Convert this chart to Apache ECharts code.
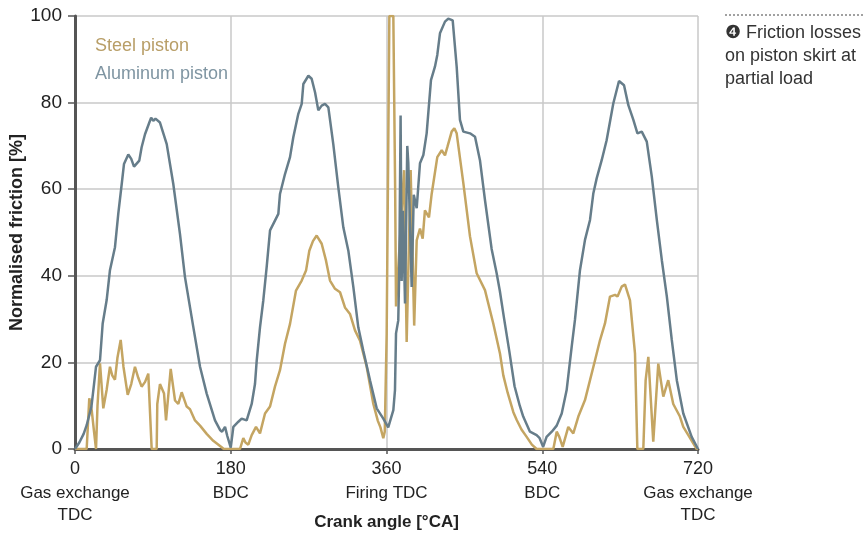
<!DOCTYPE html>
<html>
<head>
<meta charset="utf-8">
<script src="https://cdn.jsdelivr.net/npm/echarts@6/dist/echarts.min.js"></script>
<style>
html,body{margin:0;padding:0;background:#fff;}
#chart{width:863px;height:533px;}
</style>
</head>
<body>
<div id="chart"></div>
<script>
// ---- data ----
var seriesNames = ['Steel piston', 'Aluminum piston'];
var xTickValues = [0, 180, 360, 540, 720];
var xTickNumbers = ['0', '180', '360', '540', '720'];
var xTickNames = [['Gas exchange', 'TDC'], ['BDC'], ['Firing TDC'], ['BDC'], ['Gas exchange', 'TDC']];
var yTickValues = [0, 20, 40, 60, 80, 100];

var aluAngle = [0,5,10,13.5,19,22,24.3,28.9,32,36.6,40.4,46.2,50,54,56.6,61.6,65,68.2,74.3,77,80.9,85.9,88,90.5,93,98.2,106,113.6,121.3,127.1,136.7,144.5,152.2,161.8,167.6,170,173.4,176,180,183,188.8,192.6,198.4,204.2,208,210,213.8,217.6,221.5,225.4,229.2,235,236.9,242.7,248.5,252.3,258.1,262,263.9,269.7,273.5,277.4,281.2,285.1,288.9,292.8,298.5,304.3,310.1,315.9,321.7,327.4,333.2,341,348.7,356.3,362,367.9,369.8,371,373.6,374.8,376.3,377.5,379,381.4,384,385.2,389.1,391.5,394.9,398.7,402.6,406.4,411.4,416,418.7,421.8,427.6,431.4,436.5,441.1,444.9,448.8,456.5,462.3,468,473.8,481.5,487.3,491,496,502,508,514,518,525.8,533.5,537,541,545,551,556.7,562.5,568.2,574,577.8,583.6,589.4,595.2,599,602.9,608.7,614.4,622.1,628.7,634.5,639.5,645.3,650,655,660.8,666.6,672.4,678.2,684,689.7,695.5,703,712.7,720];
var aluValue = [0,1.5,3.5,5.5,9.8,15,19,20.5,29,34.4,41.3,46.6,54.3,61.2,65.8,68,67,65.2,66.6,69.7,72.7,75.4,76.5,75.8,76.3,75.4,70.4,61.2,49.7,39.7,28.2,19,12.8,6.6,4.4,4,5.1,3,0.3,5.1,6.3,7,6.6,10.4,15,20.4,28.1,34.3,42,50.5,52,54.3,58.9,63.5,67.4,72,77.4,79.7,84.3,86.2,85.5,82.4,78.2,79.3,79.7,78.9,70.4,60.4,51.2,45.8,37.4,28.1,22.7,15.8,9.4,7,5,9,13.6,26.7,29.7,42,77,38.8,55,33.6,70,66.1,37.4,58.7,55.6,66,67.9,72.9,85.2,88.3,91,96,98.7,99.4,99,88.3,76,73.3,72.9,72.1,66.7,57.5,46.2,40.6,36.5,30,22.5,14.5,10,7.5,4,3.2,2.5,0.5,2.8,4,5.4,8.2,13.6,23.6,29.8,41.3,48.3,52.9,59,62.5,66.7,71.3,79.8,85,84,79.4,76,72.9,73.3,71,62.9,52.9,43.6,35.2,25.2,15.9,8.2,2.8,0];

var steelAngle = [0,13.5,16.5,19.3,22,24.3,26,28.9,32.7,36.6,40.4,43,46.2,49,52.8,56,60.9,65,69.3,73,77,81,84.7,88.6,94.4,95.1,98.2,102.9,105.2,110.6,115.6,119.4,123.3,127,129.1,132.9,138.7,144.5,152.2,159.8,169.5,172,190.7,194.5,197,200.3,204.2,209.2,213.8,219.6,225.4,231.1,236.9,242.7,248.5,255.4,262,267,270.8,275,279.3,285.1,290.1,294.7,300.5,306.3,312,317.8,323.6,329.4,337.1,344.8,350,353,356.3,358,360.2,363.3,367.9,370,371,376,380.3,383.3,387.9,392,394.9,398.7,401.8,404.4,409.1,412.2,418.7,423.8,427.6,430.3,435.3,438.4,441.1,448.8,456.5,464.2,473.8,483.4,491.2,495,500,506.6,510.5,516,522,528,533.5,552.8,556.7,559.7,563.6,570.1,575.9,581.7,589.4,595.2,601,606.7,612.5,618.3,624.1,627,631.8,635.6,641.4,647.2,649.9,656.8,659.5,662.6,668.3,674.1,679.9,685.6,691.4,699.1,703,708.8,718.5,720];
var steelValue = [0,0,11.7,9,4,0,10,19.8,9.4,13.7,19,17,16,21,25.2,19,12.5,15,19,16.5,14.4,15.5,17.4,0,0,10.4,15,12.8,6.6,18.5,11.2,10.4,13.1,11,9.8,9.2,6.6,5.4,3.5,1.9,0.4,0,0,2.5,1.5,1,3.2,5.1,3.6,8.2,9.8,14.4,18.2,24.3,28.9,36.6,38.9,41.2,45.8,48,49.3,47.4,43.5,38.9,37,36.2,32.7,31.2,27.4,25,19,10.4,6.5,5,2.5,4,26.6,100,100,60,32.9,50,64.4,24.7,64.4,28.5,48.2,50.9,48.6,55.1,53.5,58.9,67.4,69,67.8,69.7,73.3,74.1,72.9,61.4,49.1,40.6,36.7,29,22,17,13,8.5,6.7,4.5,2.8,1,0,0,4,2.8,0.5,5.1,3.6,7.5,11.3,15.9,20.5,25.1,29,35.2,35.6,35.2,37.5,38,34.3,22,0,0,15.9,21.3,1.7,19.7,12.1,15.9,10.4,7.5,5.1,3.2,0,0];

function pairs(xs, ys) { return xs.map(function (x, i) { return [x, ys[i]]; }); }

var FONT = "'Liberation Sans', Arial, sans-serif";
var steelColor = '#c4a562';
var aluColor = '#667d8a';

var chart = echarts.init(document.getElementById('chart'), null, {renderer: 'canvas'});
chart.setOption({
  animation: false,
  backgroundColor: '#fff',
  textStyle: {fontFamily: FONT},
  grid: {left: 75, right: 165, top: 16, bottom: 84, containLabel: false, outerBoundsMode: 'none'},
  legend: {
    orient: 'vertical', left: 85, top: 32, itemGap: 10,
    icon: 'none', itemWidth: 0, itemHeight: 0,
    textStyle: {fontSize: 18, fontFamily: FONT},
    data: [
      {name: seriesNames[0], textStyle: {color: '#b89e67'}},
      {name: seriesNames[1], textStyle: {color: '#7f95a2'}}
    ]
  },
  xAxis: {
    type: 'value', min: 0, max: 720, interval: 180,
    name: 'Crank angle [°CA]', nameLocation: 'middle', nameGap: 65, nameMoveOverlap: false,
    nameTextStyle: {fontSize: 17, fontWeight: 'bold', color: '#222', fontFamily: FONT},
    axisLine: {show: true, lineStyle: {color: '#555', width: 3}},
    axisTick: {show: true, length: 5, lineStyle: {color: '#555', width: 1.5}},
    splitLine: {show: true, lineStyle: {color: '#c8c8c8', width: 1.5}},
    axisLabel: {
      margin: 8, color: '#222', align: 'center',
      showMinLabel: true, showMaxLabel: true,
      formatter: function (v) {
        var i = xTickValues.indexOf(v);
        if (i < 0) return '';
        var s = '{n|' + xTickNumbers[i] + '}';
        xTickNames[i].forEach(function (t) { s += '\n{w|' + t + '}'; });
        return s;
      },
      rich: {
        n: {fontSize: 18, lineHeight: 25, color: '#222', fontFamily: FONT, align: 'center'},
        w: {fontSize: 17, lineHeight: 22, color: '#222', fontFamily: FONT, align: 'center'}
      }
    }
  },
  yAxis: {
    type: 'value', min: 0, max: 100, interval: 20,
    name: 'Normalised friction [%]', nameLocation: 'middle', nameGap: 49, nameMoveOverlap: false,
    nameTextStyle: {fontSize: 18, fontWeight: 'bold', color: '#222', fontFamily: FONT},
    axisLine: {show: true, lineStyle: {color: '#555', width: 3}},
    axisTick: {show: true, length: 7, lineStyle: {color: '#555', width: 1.5}},
    splitLine: {show: true, lineStyle: {color: '#c8c8c8', width: 1.5}},
    axisLabel: {margin: 13, fontSize: 19, color: '#222',
      formatter: function (v) { return yTickValues.indexOf(v) >= 0 ? String(v) : ''; }}
  },
  series: [
    {name: seriesNames[0], type: 'line', data: pairs(steelAngle, steelValue), showSymbol: false, symbol: 'none',
     lineStyle: {color: steelColor, width: 2.5}, itemStyle: {color: steelColor}, z: 2, clip: true},
    {name: seriesNames[1], type: 'line', data: pairs(aluAngle, aluValue), showSymbol: false, symbol: 'none',
     lineStyle: {color: aluColor, width: 2.5}, itemStyle: {color: aluColor}, z: 3, clip: true}
  ],
  graphic: [
    {type: 'line', shape: {x1: 725, y1: 15, x2: 863, y2: 15}, style: {stroke: '#444', lineWidth: 1, lineDash: [2, 2]}},
    {type: 'text', left: 725, top: 22, style: {text: '\u2779 Friction losses\non piston skirt at\npartial load', fontSize: 18, lineHeight: 23, fill: '#333', fontFamily: FONT}}
  ]
});
</script>
</body>
</html>
